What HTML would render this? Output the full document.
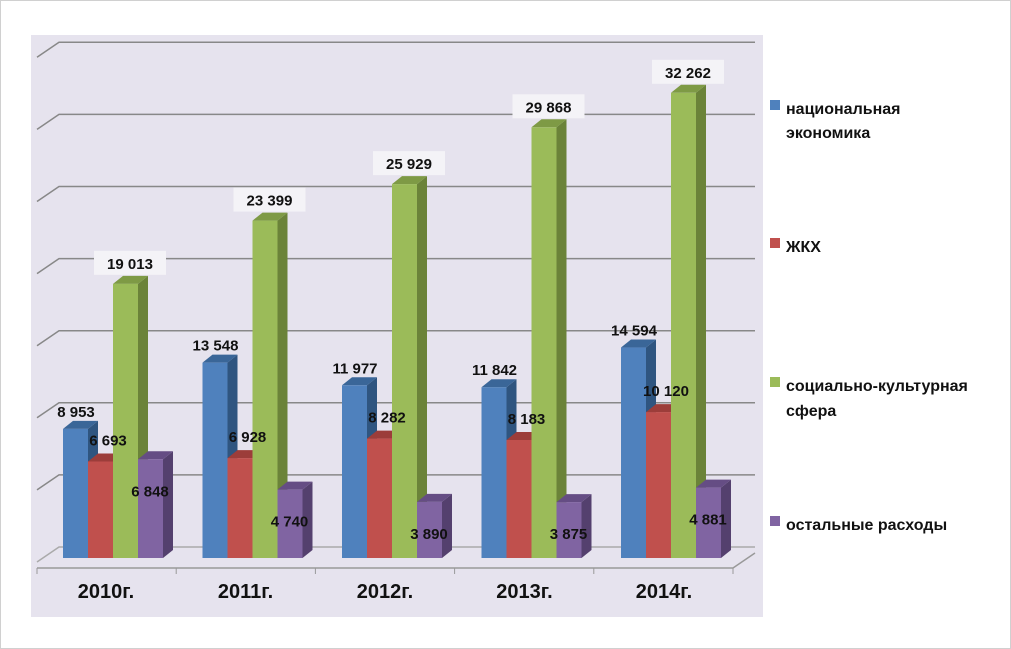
<!DOCTYPE html>
<html><head><meta charset="utf-8"><style>
body{margin:0;background:#fff;}
svg{display:block;font-family:"Liberation Sans","DejaVu Sans",sans-serif;}
</style></head><body>
<svg id="c" width="1011" height="649">
<rect x="0.5" y="0.5" width="1010" height="648" fill="#fff" stroke="#d0d0d0"/>
<rect x="31" y="35" width="732" height="582" fill="#e6e3ee"/>
<g id="grid"></g><g id="bars"></g><g id="labels"></g><g id="legend"></g>
</svg>
<script>
const categories=["2010г.","2011г.","2012г.","2013г.","2014г."];
const seriesNames=["национальная экономика","ЖКХ","социально-культурная сфера","остальные расходы"];
const natEcon=[8953,13548,11977,11842,14594];
const housing=[6693,6928,8282,8183,10120];
const social=[19013,23399,25929,29868,32262];
const other=[6848,4740,3890,3875,4881];
const valueLabels=[["8 953","13 548","11 977","11 842","14 594"],["6 693","6 928","8 282","8 183","10 120"],["19 013","23 399","25 929","29 868","32 262"],["6 848","4 740","3 890","3 875","4 881"]];
const yTicks=[0,5000,10000,15000,20000,25000,30000,35000];
const NS="http://www.w3.org/2000/svg";
const base=558, k=72.1/5000, dx=10, dy=8, bw=25;
const y=v=>base-v*k;
const x=(ci,si)=>63+ci*139.5+si*bw;
const colors=[["#4f81bd","#3a6698","#2f5580"],["#c0504d","#9c3d3a","#83302e"],["#9bbb59","#7e9a45","#6b8339"],["#8064a2","#654d84","#54406e"]];
const series=[natEcon,housing,social,other];
function el(t,a,p){const e=document.createElementNS(NS,t);for(const q in a)e.setAttribute(q,a[q]);document.getElementById(p).appendChild(e);return e;}
yTicks.forEach((t,i)=>{
 const yy=y(t)-11;
 const g=el("polyline",{points:`37,${yy+15} 59,${yy} 755,${yy}`,fill:"none",stroke:i==0?"#aaa":"#888","stroke-width":1.5},"grid");
 
 
});
const fl=el("polyline",{points:"37,568 733,568 755,553",fill:"none",stroke:"#999","stroke-width":1.5},"grid");


for(let i=0;i<=5;i++){const tk=el("line",{x1:37+i*139.2,y1:568,x2:37+i*139.2,y2:574,stroke:"#999"},"grid");

}
categories.forEach((c,ci)=>{
 const t=el("text",{x:106+ci*139.5,y:598,"font-size":20,"font-weight":"bold","text-anchor":"middle",fill:"#111"},"labels");
 t.textContent=c;
 
 
 series.forEach((s,si)=>{
  const x0=x(ci,si), yt=y(s[ci]);
  const g=document.createElementNS(NS,"g");document.getElementById("bars").appendChild(g);
  
  
  g.innerHTML=`<polygon points="${x0+bw},${yt} ${x0+bw+dx},${yt-dy} ${x0+bw+dx},${base-dy} ${x0+bw},${base}" fill="${colors[si][2]}"/><polygon points="${x0},${yt} ${x0+dx},${yt-dy} ${x0+bw+dx},${yt-dy} ${x0+bw},${yt}" fill="${colors[si][1]}"/><rect x="${x0}" y="${yt}" width="${bw}" height="${base-yt}" fill="${colors[si][0]}"/>`;
  let lx,ly;
  if(si==0){lx=x0+13;ly=yt-12;}
  else if(si==1){lx=x0+20;ly=yt-16;}
  else if(si==2){lx=x0+17;ly=yt-15;}
  else{lx=x0+12;ly=yt+37;}
  if(si==2){const r=el("rect",{x:lx-36,y:ly-18,width:72,height:24,fill:"#f4f3f7"},"labels");
   
   }
  const lt=el("text",{x:lx,y:ly,"font-size":15,"font-weight":"bold","text-anchor":"middle",fill:"#111"},"labels");
  lt.textContent=valueLabels[si][ci];
  
  
 });
});
const legY=[[112,136],[250],[389,414],[528]];
const legTxt=[["национальная","экономика"],["ЖКХ"],["социально-культурная","сфера"],["остальные расходы"]];
legTxt.forEach((lines,i)=>{
 const sq=el("rect",{x:770,y:legY[i][0]-12,width:10,height:10,fill:colors[i][0]},"legend");
 
 
 lines.forEach((l,j)=>{const t=el("text",{x:786,y:legY[i][j]+2,"font-size":16,"font-weight":"bold",fill:"#111"},"legend");
 t.textContent=l;
 
 });
});
</script>
</body></html>
